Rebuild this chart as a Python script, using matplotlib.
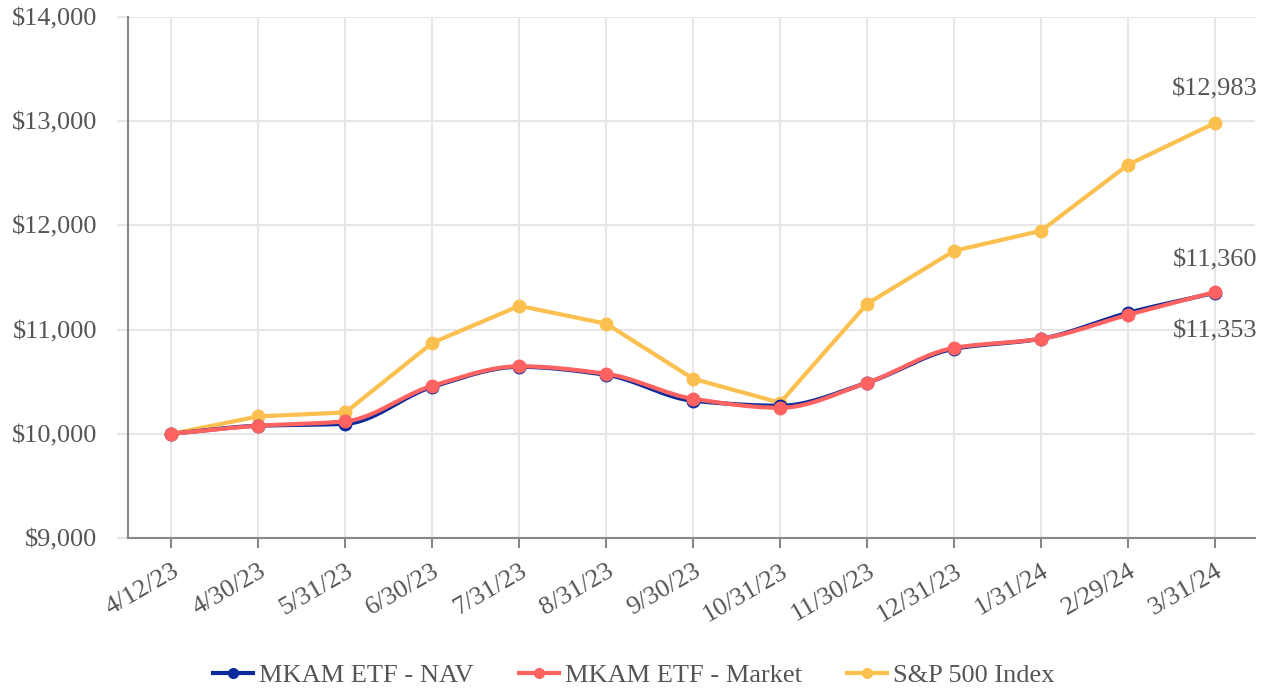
import matplotlib
matplotlib.use("Agg")
import matplotlib.pyplot as plt
import numpy as np

plt.rcParams['font.family'] = ['Liberation Serif', 'DejaVu Serif']

dates = ["4/12/23", "4/30/23", "5/31/23", "6/30/23", "7/31/23", "8/31/23", "9/30/23",
         "10/31/23", "11/30/23", "12/31/23", "1/31/24", "2/29/24", "3/31/24"]
nav = [10000, 10077, 10096, 10451, 10643, 10566, 10317, 10269, 10490, 10816, 10912, 11161, 11353]
market = [10000, 10077, 10120, 10461, 10648, 10576, 10336, 10250, 10490, 10825, 10912, 11142, 11360]
sp500 = [10000, 10167, 10205, 10873, 11228, 11056, 10528, 10298, 11248, 11756, 11948, 12582, 12983]

C_NAV = "#0a2a9c"
C_MKT = "#ff6361"
C_SP = "#fbc04f"
C_TXT = "#555555"
FS = 19


def monotone(x, y, n=20):
    # monotone cubic (Fritsch-Carlson) so the ETF lines come out smooth
    x = np.asarray(x, float)
    y = np.asarray(y, float)
    h = np.diff(x)
    d = np.diff(y) / h
    m = np.zeros_like(y)
    m[0], m[-1] = d[0], d[-1]
    for i in range(1, len(y) - 1):
        if d[i - 1] * d[i] <= 0:
            m[i] = 0
        else:
            m[i] = 2 / (1 / d[i - 1] + 1 / d[i])
    xs, ys = [], []
    for i in range(len(x) - 1):
        t = np.linspace(0, 1, n, endpoint=False)
        h00 = 2 * t**3 - 3 * t**2 + 1
        h10 = t**3 - 2 * t**2 + t
        h01 = -2 * t**3 + 3 * t**2
        h11 = t**3 - t**2
        xs.append(x[i] + t * h[i])
        ys.append(h00 * y[i] + h10 * h[i] * m[i] + h01 * y[i + 1] + h11 * h[i] * m[i + 1])
    xs.append([x[-1]])
    ys.append([y[-1]])
    return np.concatenate(xs), np.concatenate(ys)


x = np.arange(len(dates))

fig = plt.figure(figsize=(12.68, 6.90), dpi=100)
ax = fig.add_axes([128 / 1268, 1 - 538 / 690, (1255 - 128) / 1268, (538 - 17) / 690])

sx, sy = monotone(x, nav)
ax.plot(sx, sy, color=C_NAV, lw=3, zorder=3)
ax.plot(x, nav, 'o', color=C_NAV, ms=9, zorder=3)
sx, sy = monotone(x, market)
ax.plot(sx, sy, color=C_MKT, lw=3, zorder=4)
ax.plot(x, market, 'o', color=C_MKT, ms=9, zorder=4)
ax.plot(x, sp500, '-o', color=C_SP, lw=3, ms=9, zorder=2)

# legend handles
ax.plot([], [], '-o', color=C_NAV, lw=3, ms=7, label="MKAM ETF - NAV")
ax.plot([], [], '-o', color=C_MKT, lw=3, ms=7, label="MKAM ETF - Market")
ax.plot([], [], '-o', color=C_SP, lw=3, ms=7, label="S&P 500 Index")

ax.annotate("${:,}".format(sp500[-1]), (x[-1], sp500[-1]), xytext=(0, 16),
            textcoords="offset points", ha="center", va="bottom", fontsize=FS, color=C_TXT)
ax.annotate("${:,}".format(market[-1]), (x[-1], market[-1]), xytext=(0, 15),
            textcoords="offset points", ha="center", va="bottom", fontsize=FS, color=C_TXT)
ax.annotate("${:,}".format(nav[-1]), (x[-1], nav[-1]), xytext=(0, -20),
            textcoords="offset points", ha="center", va="top", fontsize=FS, color=C_TXT)

ax.set_xlim(-0.5, 12.46)
ax.set_ylim(9000, 14000)
ax.set_yticks(np.arange(9000, 14001, 1000))
ax.set_yticklabels(["${:,}".format(v) for v in range(9000, 14001, 1000)])
ax.set_xticks(x)
ax.set_xticklabels(dates, rotation=30, ha="right", rotation_mode="anchor")

ax.grid(True, color="#e6e6e6", lw=1.5)
ax.set_axisbelow(True)
for s in ["top", "right"]:
    ax.spines[s].set_visible(False)
ax.spines["left"].set_color("#888888")
ax.spines["bottom"].set_color("#888888")
ax.spines["left"].set_linewidth(1.5)
ax.spines["bottom"].set_linewidth(1.5)
ax.tick_params(axis="y", length=8, color="#e6e6e6", width=1.5, labelsize=FS, labelcolor=C_TXT, pad=14)
ax.tick_params(axis="x", length=7, color="#888888", width=1.5, labelsize=FS, labelcolor=C_TXT, pad=9)

fig.legend(loc="lower center", bbox_to_anchor=(0.5, -0.03), ncol=3, frameon=False,
           fontsize=FS, labelcolor=C_TXT, handlelength=1.5, columnspacing=1.7, handletextpad=0.25)

fig.savefig("out.png", dpi=100)
